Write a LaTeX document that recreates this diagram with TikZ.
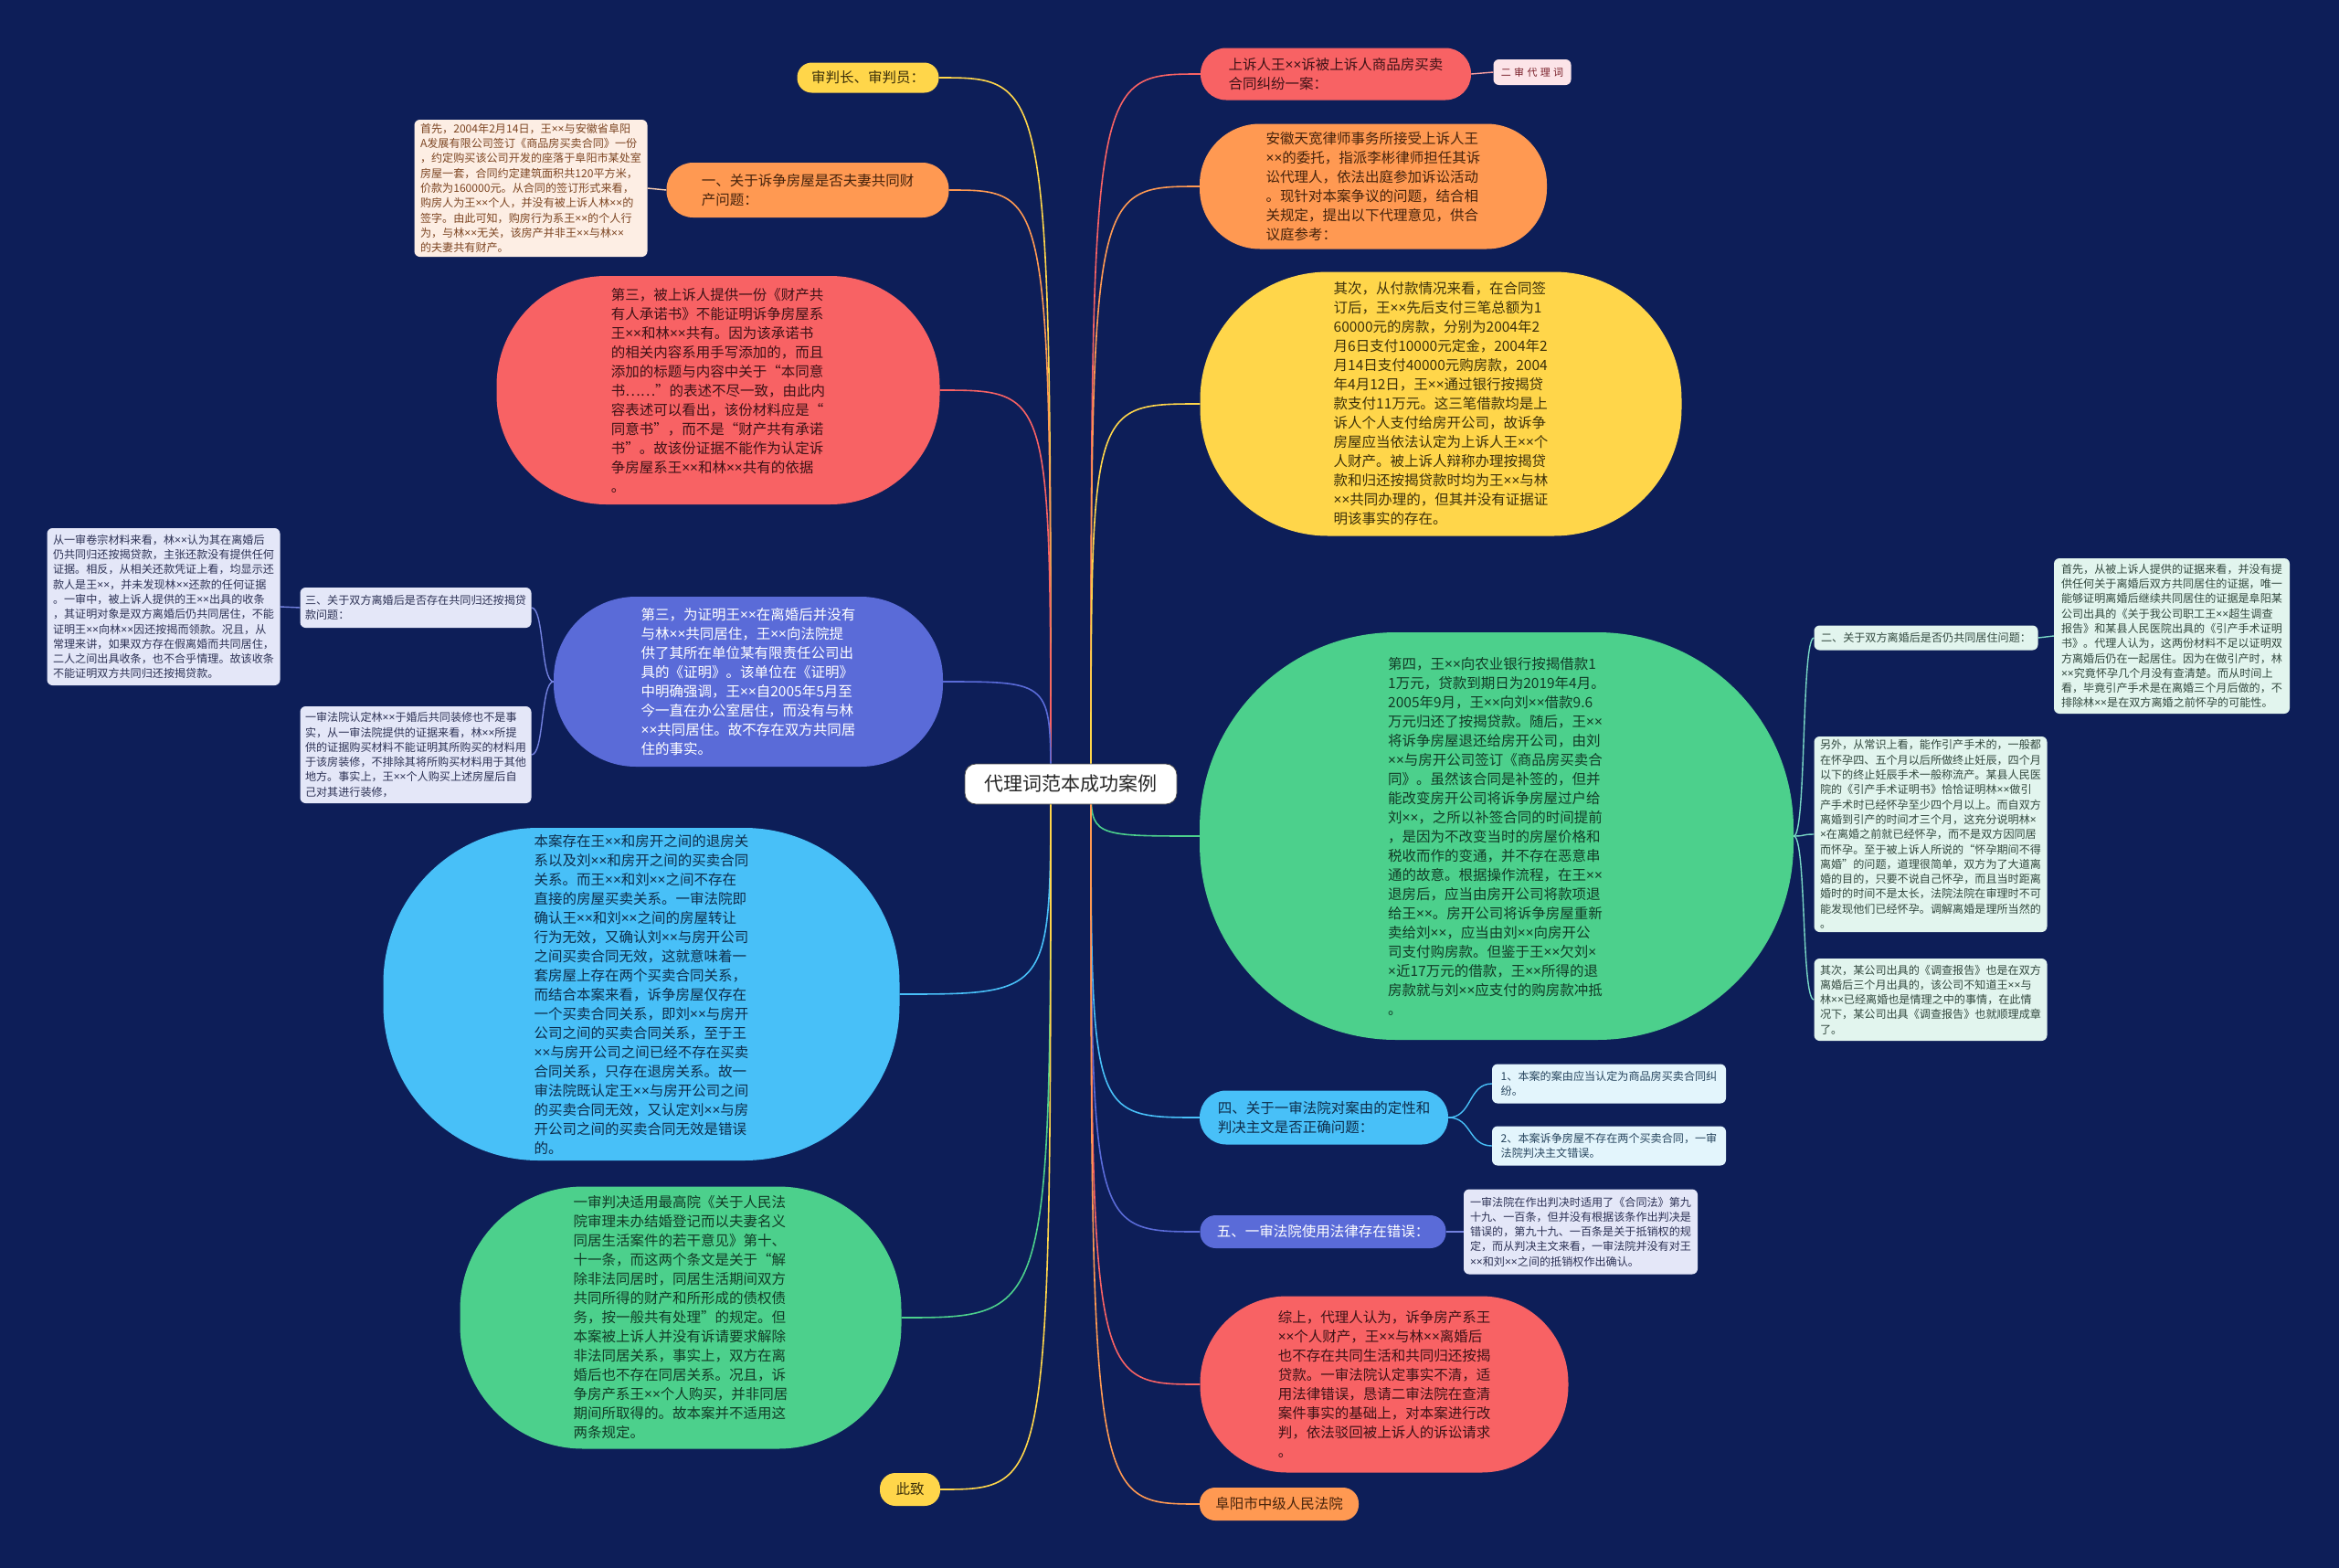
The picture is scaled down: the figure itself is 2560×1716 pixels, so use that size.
\documentclass[tikz,border=0pt]{standalone}
\usepackage{fontspec}
\setmainfont{Noto Sans CJK SC}
\newfontfamily\spacedcjk[LetterSpace=30]{Noto Sans CJK SC}
\newfontfamily\latinx{Noto Sans}
\usepackage{tikz}
\usetikzlibrary{calc}
\usepackage{xcolor}
\definecolor{bgnavy}{RGB}{13,30,88}
\definecolor{cred}{RGB}{248,98,100}
\definecolor{corange}{RGB}{255,153,82}
\definecolor{cyellow}{RGB}{255,214,74}
\definecolor{cgreen}{RGB}{76,208,140}
\definecolor{cblue}{RGB}{72,192,248}
\definecolor{cpurple}{RGB}{90,107,216}
\definecolor{cteal}{RGB}{120,214,196}
\definecolor{boxpeach}{RGB}{253,238,228}
\definecolor{boxlav}{RGB}{228,231,248}
\definecolor{boxmint}{RGB}{226,245,238}
\definecolor{boxcyan}{RGB}{227,245,252}
\definecolor{boxpink}{RGB}{252,228,232}
\definecolor{tred}{RGB}{62,18,22}
\definecolor{torange}{RGB}{70,35,12}
\definecolor{tyellow}{RGB}{60,48,10}
\definecolor{tgreen}{RGB}{18,58,38}
\definecolor{tblue}{RGB}{14,44,74}
\definecolor{tpeach}{RGB}{125,70,35}
\definecolor{tlav}{RGB}{45,50,85}
\definecolor{tmint}{RGB}{50,72,62}
\definecolor{tcyan}{RGB}{40,70,95}
\definecolor{tpink}{RGB}{120,30,40}
\pgfdeclarelayer{backdrop}
\pgfdeclarelayer{links}
\pgfsetlayers{backdrop,links,main}
\newcommand\bigfont{\fontsize{15.5}{21}\selectfont}
\newcommand\boxfont{\fontsize{12.1}{16.3}\selectfont}
% narrow multiplication sign, as in the picture
\catcode`×=13
\def×{{\latinx\char"00D7}}
\tikzset{
  blob/.style={align=left,inner sep=0pt,font=\bigfont},
  sidebox/.style={align=left,inner sep=0pt,rounded corners=6pt,font=\boxfont},
  branch/.style={line width=1.6pt},
  twig/.style={line width=1.4pt},
}

\begin{document}
\begin{tikzpicture}[x=1pt,y=-1pt]
  \useasboundingbox (0,0) rectangle (2560,1716);
  \begin{pgfonlayer}{backdrop}
    \fill[bgnavy] (0,0) rectangle (2560,1716);
  \end{pgfonlayer}

  % root
  \node[fill=white,draw=black!70,line width=0.8pt,rounded corners=12pt,
        minimum width=232pt,minimum height=44pt,text=black!85,
        font=\fontsize{21}{25}\selectfont] (root) at (1172,858) {代理词范本成功案例};
  \coordinate (hubl) at ([xshift=-22pt]root.center);
  \coordinate (hubr) at ([xshift=22pt]root.center);

  % left side
  \node[blob,fill=cyellow,text=tyellow,minimum width=155pt,minimum height=33pt,
        rounded corners=16pt] (shenpan) at (950,85) {审判长、审判员：};
  \node[blob,fill=corange,text=torange,minimum width=309pt,minimum height=60pt,
        rounded corners=29pt] (yi) at (884,208) {一、关于诉争房屋是否夫妻共同财\\产问题：};
  \node[sidebox,fill=boxpeach,text=tpeach,minimum width=255pt,minimum height=150pt]
    (shouxian) at (581,206) {首先，2004年2月14日，王××与安徽省阜阳\\A发展有限公司签订《商品房买卖合同》一份\\，约定购买该公司开发的座落于阜阳市某处室\\房屋一套，合同约定建筑面积共120平方米，\\价款为160000元。从合同的签订形式来看，\\购房人为王××个人，并没有被上诉人林××的\\签字。由此可知，购房行为系王××的个人行\\为，与林××无关，该房产并非王××与林××\\的夫妻共有财产。};
  \node[blob,fill=cred,text=tred,minimum width=485pt,minimum height=250pt,
        rounded corners=120pt] (red3) at (786,427) {第三，被上诉人提供一份《财产共\\有人承诺书》不能证明诉争房屋系\\王××和林××共有。因为该承诺书\\的相关内容系用手写添加的，而且\\添加的标题与内容中关于“本同意\\书……”的表述不尽一致，由此内\\容表述可以看出，该份材料应是“\\同意书”，而不是“财产共有承诺\\书”。故该份证据不能作为认定诉\\争房屋系王××和林××共有的依据\\。};
  \node[blob,fill=cpurple,text=white,minimum width=426pt,minimum height=186pt,
        rounded corners=90pt] (bluep) at (819,746) {第三，为证明王××在离婚后并没有\\与林××共同居住，王××向法院提\\供了其所在单位某有限责任公司出\\具的《证明》。该单位在《证明》\\中明确强调，王××自2005年5月至\\今一直在办公室居住，而没有与林\\××共同居住。故不存在双方共同居\\住的事实。};
  \node[sidebox,fill=boxlav,text=tlav,minimum width=253pt,minimum height=44pt]
    (san) at (455,665) {三、关于双方离婚后是否存在共同归还按揭贷\\款问题：};
  \node[sidebox,fill=boxlav,text=tlav,minimum width=255pt,minimum height=172pt]
    (congyishen) at (179,664) {从一审卷宗材料来看，林××认为其在离婚后\\仍共同归还按揭贷款，主张还款没有提供任何\\证据。相反，从相关还款凭证上看，均显示还\\款人是王××，并未发现林××还款的任何证据\\。一审中，被上诉人提供的王××出具的收条\\，其证明对象是双方离婚后仍共同居住，不能\\证明王××向林××因还按揭而领款。况且，从\\常理来讲，如果双方存在假离婚而共同居住，\\二人之间出具收条，也不合乎情理。故该收条\\不能证明双方共同归还按揭贷款。};
  \node[sidebox,fill=boxlav,text=tlav,minimum width=253pt,minimum height=106pt]
    (yishenfy) at (455,826) {一审法院认定林××于婚后共同装修也不是事\\实，从一审法院提供的证据来看，林××所提\\供的证据购买材料不能证明其所购买的材料用\\于该房装修，不排除其将所购买材料用于其他\\地方。事实上，王××个人购买上述房屋后自\\己对其进行装修，};
  \node[blob,fill=cblue,text=tblue,minimum width=565pt,minimum height=364pt,
        rounded corners=170pt] (lblue) at (702,1088) {本案存在王××和房开之间的退房关\\系以及刘××和房开之间的买卖合同\\关系。而王××和刘××之间不存在\\直接的房屋买卖关系。一审法院即\\确认王××和刘××之间的房屋转让\\行为无效，又确认刘××与房开公司\\之间买卖合同无效，这就意味着一\\套房屋上存在两个买卖合同关系，\\而结合本案来看，诉争房屋仅存在\\一个买卖合同关系，即刘××与房开\\公司之间的买卖合同关系，至于王\\××与房开公司之间已经不存在买卖\\合同关系，只存在退房关系。故一\\审法院既认定王××与房开公司之间\\的买卖合同无效，又认定刘××与房\\开公司之间的买卖合同无效是错误\\的。};
  \node[blob,fill=cgreen,text=tgreen,minimum width=483pt,minimum height=287pt,
        rounded corners=135pt] (greenl) at (745,1442) {一审判决适用最高院《关于人民法\\院审理未办结婚登记而以夫妻名义\\同居生活案件的若干意见》第十、\\十一条，而这两个条文是关于“解\\除非法同居时，同居生活期间双方\\共同所得的财产和所形成的债权债\\务，按一般共有处理”的规定。但\\本案被上诉人并没有诉请要求解除\\非法同居关系，事实上，双方在离\\婚后也不存在同居关系。况且，诉\\争房产系王××个人购买，并非同居\\期间所取得的。故本案并不适用这\\两条规定。};
  \node[blob,fill=cyellow,text=tyellow,minimum width=66pt,minimum height=36pt,
        rounded corners=17pt] (cizhi) at (996,1630) {此致};

  % right side
  \node[blob,fill=cred,text=tred,minimum width=296pt,minimum height=57pt,
        rounded corners=28pt] (shangsu) at (1462,81) {上诉人王××诉被上诉人商品房买卖\\合同纠纷一案：};
  \node[sidebox,fill=boxpink,text=tpink,minimum width=85pt,minimum height=28pt,
        font=\spacedcjk\fontsize{11}{13}\selectfont] (ershen) at (1677,79) {二审代理词};
  \node[blob,fill=corange,text=torange,minimum width=380pt,minimum height=137pt,
        rounded corners=66pt] (anhui) at (1503,204) {安徽天宽律师事务所接受上诉人王\\××的委托，指派李彬律师担任其诉\\讼代理人，依法出庭参加诉讼活动\\。现针对本案争议的问题，结合相\\关规定，提出以下代理意见，供合\\议庭参考：};
  \node[blob,fill=cyellow,text=tyellow,minimum width=527pt,minimum height=289pt,
        rounded corners=140pt] (yellowr) at (1577,442) {其次，从付款情况来看，在合同签\\订后，王××先后支付三笔总额为1\\60000元的房款，分别为2004年2\\月6日支付10000元定金，2004年2\\月14日支付40000元购房款，2004\\年4月12日，王××通过银行按揭贷\\款支付11万元。这三笔借款均是上\\诉人个人支付给房开公司，故诉争\\房屋应当依法认定为上诉人王××个\\人财产。被上诉人辩称办理按揭贷\\款和归还按揭贷款时均为王××与林\\××共同办理的，但其并没有证据证\\明该事实的存在。};
  \node[blob,fill=cgreen,text=tgreen,minimum width=650pt,minimum height=446pt,
        rounded corners=215pt] (greenr) at (1638,915) {第四，王××向农业银行按揭借款1\\1万元，贷款到期日为2019年4月。\\2005年9月，王××向刘××借款9.6\\万元归还了按揭贷款。随后，王××\\将诉争房屋退还给房开公司，由刘\\××与房开公司签订《商品房买卖合\\同》。虽然该合同是补签的，但并\\能改变房开公司将诉争房屋过户给\\刘××，之所以补签合同的时间提前\\，是因为不改变当时的房屋价格和\\税收而作的变通，并不存在恶意串\\通的故意。根据操作流程，在王××\\退房后，应当由房开公司将款项退\\给王××。房开公司将诉争房屋重新\\卖给刘××，应当由刘××向房开公\\司支付购房款。但鉴于王××欠刘×\\×近17万元的借款，王××所得的退\\房款就与刘××应支付的购房款冲抵\\。};
  \node[sidebox,fill=boxmint,text=tmint,minimum width=245pt,minimum height=27pt]
    (er) at (2108,698) {二、关于双方离婚后是否仍共同居住问题：};
  \node[sidebox,fill=boxmint,text=tmint,minimum width=258pt,minimum height=170pt]
    (shouxianr) at (2377,696) {首先，从被上诉人提供的证据来看，并没有提\\供任何关于离婚后双方共同居住的证据，唯一\\能够证明离婚后继续共同居住的证据是阜阳某\\公司出具的《关于我公司职工王××超生调查\\报告》和某县人民医院出具的《引产手术证明\\书》。代理人认为，这两份材料不足以证明双\\方离婚后仍在一起居住。因为在做引产时，林\\××究竟怀孕几个月没有查清楚。而从时间上\\看，毕竟引产手术是在离婚三个月后做的，不\\排除林××是在双方离婚之前怀孕的可能性。};
  \node[sidebox,fill=boxmint,text=tmint,minimum width=255pt,minimum height=214pt]
    (lingwai) at (2113,913) {另外，从常识上看，能作引产手术的，一般都\\在怀孕四、五个月以后所做终止妊辰，四个月\\以下的终止妊辰手术一般称流产。某县人民医\\院的《引产手术证明书》恰恰证明林××做引\\产手术时已经怀孕至少四个月以上。而自双方\\离婚到引产的时间才三个月，这充分说明林×\\×在离婚之前就已经怀孕，而不是双方因同居\\而怀孕。至于被上诉人所说的“怀孕期间不得\\离婚”的问题，道理很简单，双方为了大道离\\婚的目的，只要不说自己怀孕，而且当时距离\\婚时的时间不是太长，法院法院在审理时不可\\能发现他们已经怀孕。调解离婚是理所当然的\\。};
  \node[sidebox,fill=boxmint,text=tmint,minimum width=255pt,minimum height=90pt]
    (qici) at (2113,1094) {其次，某公司出具的《调查报告》也是在双方\\离婚后三个月出具的，该公司不知道王××与\\林××已经离婚也是情理之中的事情，在此情\\况下，某公司出具《调查报告》也就顺理成章\\了。};
  \node[blob,fill=cblue,text=tblue,minimum width=272pt,minimum height=59pt,
        rounded corners=29pt] (si) at (1449,1223) {四、关于一审法院对案由的定性和\\判决主文是否正确问题：};
  \node[sidebox,fill=boxcyan,text=tcyan,minimum width=256pt,minimum height=43pt]
    (one) at (1761,1186) {1、本案的案由应当认定为商品房买卖合同纠\\纷。};
  \node[sidebox,fill=boxcyan,text=tcyan,minimum width=256pt,minimum height=43pt]
    (two) at (1761,1254) {2、本案诉争房屋不存在两个买卖合同，一审\\法院判决主文错误。};
  \node[blob,fill=cpurple,text=white,minimum width=269pt,minimum height=36pt,
        rounded corners=17pt] (wu) at (1448,1348) {五、一审法院使用法律存在错误：};
  \node[sidebox,fill=boxlav,text=tlav,minimum width=256pt,minimum height=93pt]
    (wur) at (1730,1348) {一审法院在作出判决时适用了《合同法》第九\\十九、一百条，但并没有根据该条作出判决是\\错误的，第九十九、一百条是关于抵销权的规\\定，而从判决主文来看，一审法院并没有对王\\××和刘××之间的抵销权作出确认。};
  \node[blob,fill=cred,text=tred,minimum width=403pt,minimum height=193pt,
        rounded corners=95pt] (zongshang) at (1515,1515) {综上，代理人认为，诉争房产系王\\××个人财产，王××与林××离婚后\\也不存在共同生活和共同归还按揭\\贷款。一审法院认定事实不清，适\\用法律错误，恳请二审法院在查清\\案件事实的基础上，对本案进行改\\判，依法驳回被上诉人的诉讼请求\\。};
  \node[blob,fill=corange,text=torange,minimum width=174pt,minimum height=36pt,
        rounded corners=17pt] (fuyang) at (1400,1646) {阜阳市中级人民法院};

  % connectors
  \begin{pgfonlayer}{links}
    \foreach \n/\c in {shenpan/cyellow,yi/corange,red3/cred,bluep/cpurple,
                       lblue/cblue,greenl/cgreen,cizhi/cyellow}
      \draw[branch,\c] (hubl) .. controls (hubl |- \n.east) .. (\n.east);
    \foreach \n/\c in {shangsu/cred,anhui/corange,yellowr/cyellow,greenr/cgreen,
                       si/cblue,wu/cpurple,zongshang/cred,fuyang/corange}
      \draw[branch,\c] (hubr) .. controls (hubr |- \n.west) .. (\n.west);
    \draw[twig,corange!45!white] (yi.west) -- (shouxian.east);
    \foreach \k in {san,yishenfy}
      \draw[twig,cpurple!85!white] (bluep.west) .. controls +(-14,0) and +(14,0) .. (\k.east);
    \draw[twig,cpurple!85!white] (san.west) -- (congyishen.east);
    \foreach \k in {er,lingwai,qici}
      \draw[twig,cteal] (greenr.east) .. controls +(14,0) and +(-14,0) .. (\k.west);
    \draw[twig,cteal] (er.east) -- (shouxianr.west);
    \foreach \k in {one,two}
      \draw[twig,cblue] (si.east) .. controls +(26,0) and +(-26,0) .. (\k.west);
    \draw[twig,cpurple!85!white] (wu.east) -- (wur.west);
    \draw[twig,cred!60!white] (shangsu.east) -- (ershen.west);
  \end{pgfonlayer}
\end{tikzpicture}
\end{document}
